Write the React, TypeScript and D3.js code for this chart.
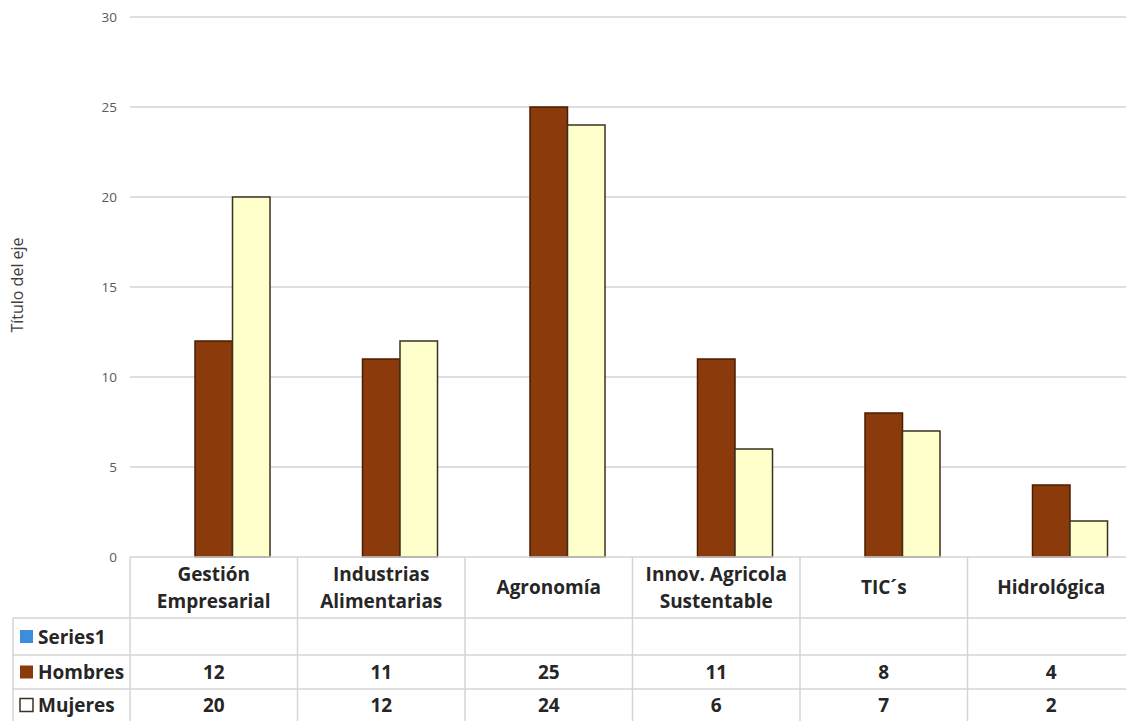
import React from "react";
import * as d3 from "d3";

const categories = [
  ["Gestión", "Empresarial"],
  ["Industrias", "Alimentarias"],
  ["Agronomía"],
  ["Innov. Agricola", "Sustentable"],
  ["TIC´s"],
  ["Hidrológica"],
];
const seriesNames = ["Series1", "Hombres", "Mujeres"];
const series1: (number | null)[] = [null, null, null, null, null, null];
const hombres = [12, 11, 25, 11, 8, 4];
const mujeres = [20, 12, 24, 6, 7, 2];
const yTicks = [0, 5, 10, 15, 20, 25, 30];

const W = 1126;
const H = 721;
const left = 130;
const step = 167.5;
const top = 17;
const bottom = 557;
const rows = [618, 655, 689, 721];
const font = "'Open Sans', Lato, sans-serif";

const fills: Record<string, string> = {
  Series1: "#3b8ede",
  Hombres: "#8b3a0c",
  Mujeres: "#ffffcc",
};
const strokes: Record<string, string> = {
  Series1: "#2a6fb5",
  Hombres: "#4a1c02",
  Mujeres: "#3d3020",
};

const App = () => {
  const keys = categories.map((c) => c.join(" "));
  const x = d3
    .scaleBand<string>()
    .domain(keys)
    .range([left, left + step * keys.length])
    .paddingInner(0)
    .paddingOuter(0);
  const xs = d3
    .scaleBand<string>()
    .domain(seriesNames)
    .range([0, x.bandwidth()])
    .paddingInner(0)
    .paddingOuter(0.733);
  const y = d3.scaleLinear().domain([0, 30]).range([bottom, top]);

  const data: Record<string, (number | null)[]> = {
    Series1: series1,
    Hombres: hombres,
    Mujeres: mujeres,
  };

  const grid = "#d4d4d4";
  const label = 19;

  return (
    <svg
      width={W}
      height={H}
      style={{ position: "absolute", left: 0, top: 0, background: "#fff" }}
    >
      {/* gridlines + tick labels */}
      {yTicks.map((t) => (
        <g key={t}>
          {t > 0 && (
            <line x1={left} x2={W} y1={y(t)} y2={y(t)} stroke={grid} strokeWidth={1.3} />
          )}
          <text
            x={117}
            y={y(t) + 5}
            textAnchor="end"
            fontFamily={font}
            fontSize={13.5}
            fill="#595959"
          >
            {t}
          </text>
        </g>
      ))}
      <text
        transform={`translate(23,${(top + bottom) / 2 - 2}) rotate(-90)`}
        textAnchor="middle"
        fontFamily={font}
        fontSize={16}
        fill="#404040"
      >
        Título del eje
      </text>

      {/* bars */}
      {seriesNames.map((s) =>
        keys.map((k, i) => {
          const v = data[s][i];
          if (v == null) return null;
          return (
            <rect
              key={s + k}
              x={(x(k) as number) + (xs(s) as number)}
              y={y(v)}
              width={xs.bandwidth()}
              height={y(0) - y(v)}
              fill={fills[s]}
              stroke={strokes[s]}
              strokeWidth={1.5}
            />
          );
        })
      )}

      {/* data table */}
      <line x1={left} x2={W} y1={bottom} y2={bottom} stroke={grid} strokeWidth={1.5} />
      {rows.slice(0, 3).map((r) => (
        <line key={r} x1={13} x2={W} y1={r} y2={r} stroke={grid} strokeWidth={1.5} />
      ))}
      <line x1={13} x2={13} y1={rows[0]} y2={H} stroke={grid} strokeWidth={1.5} />
      {d3.range(keys.length + 1).map((i) => (
        <line
          key={i}
          x1={left + i * step}
          x2={left + i * step}
          y1={bottom}
          y2={H}
          stroke={grid}
          strokeWidth={1.5}
        />
      ))}
      {categories.map((c, i) => {
        const cx = (x(keys[i]) as number) + x.bandwidth() / 2;
        const mid = (bottom + rows[0]) / 2;
        const lh = 27;
        const y0 = mid - ((c.length - 1) * lh) / 2 + 6.5;
        return (
          <text
            key={i}
            textAnchor="middle"
            fontFamily={font}
            fontWeight="bold"
            fontSize={label}
            fill="#262626"
          >
            {c.map((line, j) => (
              <tspan key={j} x={cx} y={y0 + j * lh}>
                {line}
              </tspan>
            ))}
          </text>
        );
      })}
      {seriesNames.map((s, r) => {
        const yc = (rows[r] + rows[r + 1]) / 2;
        return (
          <g key={s}>
            <rect
              x={20}
              y={yc - 6.5}
              width={13}
              height={13}
              fill={s === "Mujeres" ? "#ffffff" : fills[s]}
              stroke={s === "Mujeres" ? "#3d3020" : "none"}
              strokeWidth={1.5}
            />
            <text
              x={38}
              y={yc + 7}
              fontFamily={font}
              fontWeight="bold"
              fontSize={label}
              fill="#262626"
            >
              {s}
            </text>
            {data[s].map((v, i) =>
              v == null ? null : (
                <text
                  key={i}
                  x={(x(keys[i]) as number) + x.bandwidth() / 2}
                  y={yc + 7}
                  textAnchor="middle"
                  fontFamily={font}
                  fontWeight="bold"
                  fontSize={label}
                  fill="#262626"
                >
                  {v}
                </text>
              )
            )}
          </g>
        );
      })}
    </svg>
  );
};

export default App;
